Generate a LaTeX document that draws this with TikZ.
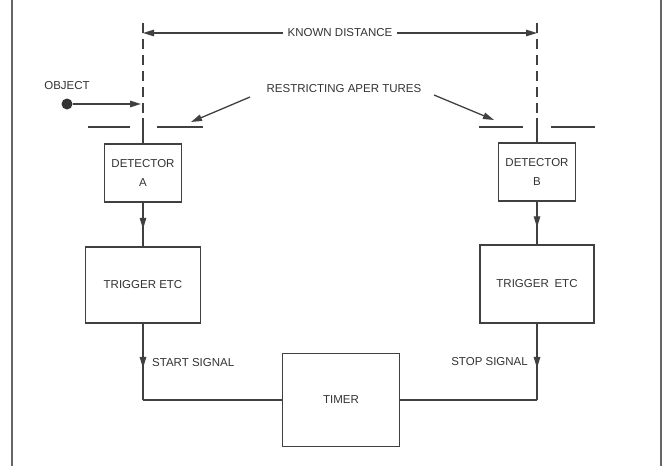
\documentclass[tikz,border=0pt]{standalone}
\usepackage{fontspec}
\setmainfont{Liberation Sans}
\usetikzlibrary{arrows.meta,decorations.markings}

\begin{document}
\begin{tikzpicture}[x=1pt,y=-1pt,
  ink/.style={draw=black!75,line width=1.3pt},
  blk/.style={ink,fill=white,text=black!80,font=\fontsize{11.5}{19}\selectfont,align=center,inner sep=0pt},
  lbl/.style={text=black!80,font=\fontsize{11.5}{14}\selectfont,inner sep=1pt},
  tip/.style={-{Triangle[length=11pt,width=6.5pt]}},
  midtip/.style={postaction={decorate},decoration={markings,mark=at position #1 with {\arrow{Triangle[length=11pt,width=6.5pt]}}}},
  sight/.style={ink,dash pattern=on 10pt off 6pt}]
\useasboundingbox[fill=white] (0,0) rectangle (667,466);
\draw[ink,draw=black!60] (12,0)--(12,466);
\draw[ink,draw=black!60] (661,0)--(661,466);

\node[blk,minimum width=77pt,minimum height=58pt] (detA) at (143,173) {DETECTOR\\A};
\node[blk,minimum width=77pt,minimum height=58pt] (detB) at (537,172) {DETECTOR\\B};
\node[blk,minimum width=115pt,minimum height=76pt] (trigA) at (143,285) {TRIGGER ETC};
\node[blk,minimum width=114pt,minimum height=78pt] (trigB) at (537,284) {TRIGGER\enspace ETC};
\node[blk,minimum width=117pt,minimum height=93pt] (timer) at (341,400) {TIMER};

% lines of sight through the apertures
\coordinate (topA) at (143,23);
\coordinate (topB) at (537,23);
\coordinate (apA) at (143,118);
\coordinate (apB) at (537,118);
\draw[sight] (topA)--(apA);
\draw[ink] (apA)--(detA.north);
\draw[sight] (topB)--(apB);
\draw[ink] (apB)--(detB.north);

\draw[ink] (88,127)--(130,127);
\draw[ink] (157,127)--(203,127);
\draw[ink] (479,127)--(523,127);
\draw[ink] (551,127)--(595,127);

\node[lbl,fill=white,inner sep=5pt] (known) at (340,33) {KNOWN DISTANCE};
\coordinate (kA) at (143,33);
\coordinate (kB) at (537,33);
\draw[ink,tip] (known.west)--(kA);
\draw[ink,tip] (known.east)--(kB);

\node[lbl] (objtxt) at (67,86) {OBJECT};
\node[circle,fill=black!80,inner sep=0pt,minimum size=11pt] (obj) at (67,104) {};
\coordinate (objend) at (141,104);
\draw[ink,tip] (obj)--(objend);

\node[lbl] (restr) at (344,89) {RESTRICTING APER TURES};
\coordinate (rA) at (250,97);
\coordinate (rB) at (434,95);
\coordinate (pA) at (191,122);
\coordinate (pB) at (494,120);
\draw[ink,tip] (rA)--(pA);
\draw[ink,tip] (rB)--(pB);

\draw[ink,midtip=0.6] (detA.south)--(trigA.north);
\draw[ink,midtip=0.6] (detB.south)--(trigB.north);

\coordinate (cA) at (trigA.south |- timer.west);
\coordinate (cB) at (trigB.south |- timer.east);
\draw[ink,midtip=0.58] (trigA.south)--(cA);
\draw[ink] (cA)--(timer.west);
\draw[ink,midtip=0.58] (trigB.south)--(cB);
\draw[ink] (cB)--(timer.east);
\node[lbl,anchor=west] (start) at (151,363) {START SIGNAL};
\node[lbl,anchor=east] (stop) at (529,362) {STOP SIGNAL};
\end{tikzpicture}
\end{document}
